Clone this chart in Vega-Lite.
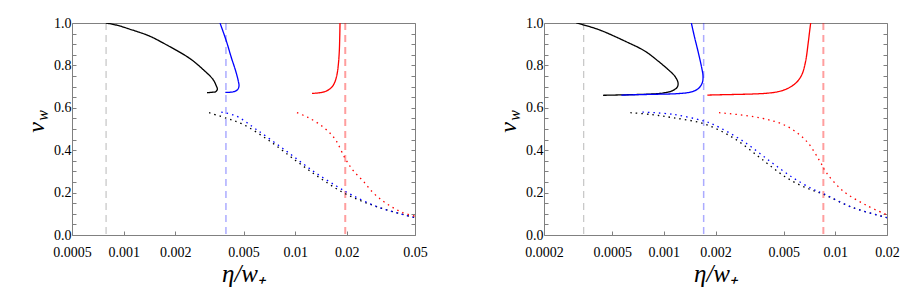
{
  "$schema": "https://vega.github.io/schema/vega-lite/v6.json",
  "padding": {"left": 23, "top": 15, "right": 5, "bottom": 5},
  "spacing": 67,
  "config": {
    "view": {"stroke": "#808080", "strokeWidth": 1},
    "axis": {
      "labelFont": "Liberation Serif", "labelFontSize": 14, "labelColor": "#000",
      "titleFont": "Liberation Serif", "titleFontStyle": "italic", "titleFontWeight": "normal",
      "titleColor": "#000", "tickColor": "#808080", "domain": false, "grid": false,
      "labelFlush": false, "labelOverlap": false
    }
  },
  "datasets": {
    "LR": [
      {"series": "A", "x": 0.00079},
      {"series": "B", "x": 0.00395},
      {"series": "C", "x": 0.0196}
    ],
    "LC": [
      {"series": "A", "style": "solid", "ord": 1, "x": 0.00079, "y": 1.0},
      {"series": "A", "style": "solid", "ord": 2, "x": 0.00092, "y": 0.989},
      {"series": "A", "style": "solid", "ord": 3, "x": 0.001085, "y": 0.971},
      {"series": "A", "style": "solid", "ord": 4, "x": 0.0014, "y": 0.940},
      {"series": "A", "style": "solid", "ord": 5, "x": 0.001697, "y": 0.906},
      {"series": "A", "style": "solid", "ord": 6, "x": 0.002428, "y": 0.833},
      {"series": "A", "style": "solid", "ord": 7, "x": 0.002903, "y": 0.781},
      {"series": "A", "style": "solid", "ord": 8, "x": 0.00332, "y": 0.734},
      {"series": "A", "style": "solid", "ord": 9, "x": 0.003472, "y": 0.703},
      {"series": "A", "style": "solid", "ord": 10, "x": 0.00352, "y": 0.687},
      {"series": "A", "style": "solid", "ord": 11, "x": 0.00344, "y": 0.676},
      {"series": "A", "style": "solid", "ord": 12, "x": 0.003246, "y": 0.673},
      {"series": "A", "style": "solid", "ord": 13, "x": 0.003063, "y": 0.671},
      {"series": "B", "style": "solid", "ord": 1, "x": 0.003648, "y": 1.0},
      {"series": "B", "style": "solid", "ord": 2, "x": 0.003971, "y": 0.915},
      {"series": "B", "style": "solid", "ord": 3, "x": 0.004246, "y": 0.837},
      {"series": "B", "style": "solid", "ord": 4, "x": 0.0045, "y": 0.774},
      {"series": "B", "style": "solid", "ord": 5, "x": 0.004664, "y": 0.726},
      {"series": "B", "style": "solid", "ord": 6, "x": 0.004707, "y": 0.703},
      {"series": "B", "style": "solid", "ord": 7, "x": 0.004623, "y": 0.686},
      {"series": "B", "style": "solid", "ord": 8, "x": 0.004382, "y": 0.676},
      {"series": "B", "style": "solid", "ord": 9, "x": 0.004061, "y": 0.673},
      {"series": "B", "style": "solid", "ord": 10, "x": 0.003917, "y": 0.673},
      {"series": "C", "style": "solid", "ord": 1, "x": 0.01254, "y": 0.668},
      {"series": "C", "style": "solid", "ord": 2, "x": 0.0139, "y": 0.671},
      {"series": "C", "style": "solid", "ord": 3, "x": 0.0152, "y": 0.679},
      {"series": "C", "style": "solid", "ord": 4, "x": 0.01626, "y": 0.695},
      {"series": "C", "style": "solid", "ord": 5, "x": 0.0170, "y": 0.719},
      {"series": "C", "style": "solid", "ord": 6, "x": 0.01755, "y": 0.758},
      {"series": "C", "style": "solid", "ord": 7, "x": 0.01787, "y": 0.805},
      {"series": "C", "style": "solid", "ord": 8, "x": 0.0181, "y": 0.868},
      {"series": "C", "style": "solid", "ord": 9, "x": 0.0182, "y": 0.931},
      {"series": "C", "style": "solid", "ord": 10, "x": 0.01827, "y": 1.0},
      {"series": "A", "style": "dotted", "ord": 1, "x": 0.00315, "y": 0.577},
      {"series": "A", "style": "dotted", "ord": 2, "x": 0.004, "y": 0.550},
      {"series": "A", "style": "dotted", "ord": 3, "x": 0.00497, "y": 0.522},
      {"series": "A", "style": "dotted", "ord": 4, "x": 0.00711, "y": 0.443},
      {"series": "A", "style": "dotted", "ord": 5, "x": 0.01016, "y": 0.349},
      {"series": "A", "style": "dotted", "ord": 6, "x": 0.0139, "y": 0.270},
      {"series": "A", "style": "dotted", "ord": 7, "x": 0.0199, "y": 0.192},
      {"series": "A", "style": "dotted", "ord": 8, "x": 0.0311, "y": 0.129},
      {"series": "A", "style": "dotted", "ord": 9, "x": 0.05, "y": 0.082},
      {"series": "B", "style": "dotted", "ord": 1, "x": 0.00371, "y": 0.580},
      {"series": "B", "style": "dotted", "ord": 2, "x": 0.00454, "y": 0.561},
      {"series": "B", "style": "dotted", "ord": 3, "x": 0.00594, "y": 0.498},
      {"series": "B", "style": "dotted", "ord": 4, "x": 0.00889, "y": 0.396},
      {"series": "B", "style": "dotted", "ord": 5, "x": 0.01271, "y": 0.302},
      {"series": "B", "style": "dotted", "ord": 6, "x": 0.01739, "y": 0.231},
      {"series": "B", "style": "dotted", "ord": 7, "x": 0.0215, "y": 0.188},
      {"series": "B", "style": "dotted", "ord": 8, "x": 0.0311, "y": 0.129},
      {"series": "B", "style": "dotted", "ord": 9, "x": 0.05, "y": 0.082},
      {"series": "C", "style": "dotted", "ord": 1, "x": 0.01025, "y": 0.577},
      {"series": "C", "style": "dotted", "ord": 2, "x": 0.0118, "y": 0.556},
      {"series": "C", "style": "dotted", "ord": 3, "x": 0.0139, "y": 0.522},
      {"series": "C", "style": "dotted", "ord": 4, "x": 0.0160, "y": 0.480},
      {"series": "C", "style": "dotted", "ord": 5, "x": 0.01739, "y": 0.443},
      {"series": "C", "style": "dotted", "ord": 6, "x": 0.01946, "y": 0.365},
      {"series": "C", "style": "dotted", "ord": 7, "x": 0.02175, "y": 0.305},
      {"series": "C", "style": "dotted", "ord": 8, "x": 0.02488, "y": 0.255},
      {"series": "C", "style": "dotted", "ord": 9, "x": 0.02845, "y": 0.200},
      {"series": "C", "style": "dotted", "ord": 10, "x": 0.03254, "y": 0.160},
      {"series": "C", "style": "dotted", "ord": 11, "x": 0.0372, "y": 0.129},
      {"series": "C", "style": "dotted", "ord": 12, "x": 0.04256, "y": 0.105},
      {"series": "C", "style": "dotted", "ord": 13, "x": 0.05, "y": 0.089}
    ],
    "RR": [
      {"series": "A", "x": 0.000341},
      {"series": "B", "x": 0.001706},
      {"series": "C", "x": 0.00851}
    ],
    "RC": [
      {"series": "A", "style": "solid", "ord": 1, "x": 0.000309, "y": 1.0},
      {"series": "A", "style": "solid", "ord": 2, "x": 0.000413, "y": 0.970},
      {"series": "A", "style": "solid", "ord": 3, "x": 0.000591, "y": 0.915},
      {"series": "A", "style": "solid", "ord": 4, "x": 0.000773, "y": 0.868},
      {"series": "A", "style": "solid", "ord": 5, "x": 0.000924, "y": 0.821},
      {"series": "A", "style": "solid", "ord": 6, "x": 0.001057, "y": 0.781},
      {"series": "A", "style": "solid", "ord": 7, "x": 0.001156, "y": 0.750},
      {"series": "A", "style": "solid", "ord": 8, "x": 0.001209, "y": 0.719},
      {"series": "A", "style": "solid", "ord": 9, "x": 0.001198, "y": 0.698},
      {"series": "A", "style": "solid", "ord": 10, "x": 0.00113, "y": 0.682},
      {"series": "A", "style": "solid", "ord": 11, "x": 0.001011, "y": 0.671},
      {"series": "A", "style": "solid", "ord": 12, "x": 0.000845, "y": 0.665},
      {"series": "A", "style": "solid", "ord": 13, "x": 0.000646, "y": 0.662},
      {"series": "A", "style": "solid", "ord": 14, "x": 0.000442, "y": 0.659},
      {"series": "B", "style": "solid", "ord": 1, "x": 0.001446, "y": 1.0},
      {"series": "B", "style": "solid", "ord": 2, "x": 0.001512, "y": 0.931},
      {"series": "B", "style": "solid", "ord": 3, "x": 0.00158, "y": 0.868},
      {"series": "B", "style": "solid", "ord": 4, "x": 0.001654, "y": 0.797},
      {"series": "B", "style": "solid", "ord": 5, "x": 0.001691, "y": 0.750},
      {"series": "B", "style": "solid", "ord": 6, "x": 0.001676, "y": 0.719},
      {"series": "B", "style": "solid", "ord": 7, "x": 0.001595, "y": 0.692},
      {"series": "B", "style": "solid", "ord": 8, "x": 0.001446, "y": 0.675},
      {"series": "B", "style": "solid", "ord": 9, "x": 0.001209, "y": 0.667},
      {"series": "B", "style": "solid", "ord": 10, "x": 0.000924, "y": 0.664},
      {"series": "B", "style": "solid", "ord": 11, "x": 0.000707, "y": 0.662},
      {"series": "B", "style": "solid", "ord": 12, "x": 0.000565, "y": 0.660},
      {"series": "C", "style": "solid", "ord": 1, "x": 0.001793, "y": 0.660},
      {"series": "C", "style": "solid", "ord": 2, "x": 0.002262, "y": 0.662},
      {"series": "C", "style": "solid", "ord": 3, "x": 0.002958, "y": 0.664},
      {"series": "C", "style": "solid", "ord": 4, "x": 0.00387, "y": 0.668},
      {"series": "C", "style": "solid", "ord": 5, "x": 0.004628, "y": 0.676},
      {"series": "C", "style": "solid", "ord": 6, "x": 0.005294, "y": 0.692},
      {"series": "C", "style": "solid", "ord": 7, "x": 0.00592, "y": 0.719},
      {"series": "C", "style": "solid", "ord": 8, "x": 0.00639, "y": 0.758},
      {"series": "C", "style": "solid", "ord": 9, "x": 0.006712, "y": 0.821},
      {"series": "C", "style": "solid", "ord": 10, "x": 0.006926, "y": 0.899},
      {"series": "C", "style": "solid", "ord": 11, "x": 0.00708, "y": 0.962},
      {"series": "C", "style": "solid", "ord": 12, "x": 0.007178, "y": 1.0},
      {"series": "A", "style": "dotted", "ord": 1, "x": 0.000638, "y": 0.577},
      {"series": "A", "style": "dotted", "ord": 2, "x": 0.00085, "y": 0.568},
      {"series": "A", "style": "dotted", "ord": 3, "x": 0.00113, "y": 0.553},
      {"series": "A", "style": "dotted", "ord": 4, "x": 0.001707, "y": 0.525},
      {"series": "A", "style": "dotted", "ord": 5, "x": 0.00253, "y": 0.459},
      {"series": "A", "style": "dotted", "ord": 6, "x": 0.0035, "y": 0.375},
      {"series": "A", "style": "dotted", "ord": 7, "x": 0.0043, "y": 0.318},
      {"series": "A", "style": "dotted", "ord": 8, "x": 0.0052, "y": 0.270},
      {"series": "A", "style": "dotted", "ord": 9, "x": 0.0065, "y": 0.228},
      {"series": "A", "style": "dotted", "ord": 10, "x": 0.00852, "y": 0.192},
      {"series": "A", "style": "dotted", "ord": 11, "x": 0.01266, "y": 0.129},
      {"series": "A", "style": "dotted", "ord": 12, "x": 0.02, "y": 0.082},
      {"series": "B", "style": "dotted", "ord": 1, "x": 0.00075, "y": 0.580},
      {"series": "B", "style": "dotted", "ord": 2, "x": 0.00113, "y": 0.569},
      {"series": "B", "style": "dotted", "ord": 3, "x": 0.001707, "y": 0.538},
      {"series": "B", "style": "dotted", "ord": 4, "x": 0.001935, "y": 0.522},
      {"series": "B", "style": "dotted", "ord": 5, "x": 0.002892, "y": 0.443},
      {"series": "B", "style": "dotted", "ord": 6, "x": 0.004141, "y": 0.349},
      {"series": "B", "style": "dotted", "ord": 7, "x": 0.005662, "y": 0.270},
      {"series": "B", "style": "dotted", "ord": 8, "x": 0.0074, "y": 0.216},
      {"series": "B", "style": "dotted", "ord": 9, "x": 0.00852, "y": 0.195},
      {"series": "B", "style": "dotted", "ord": 10, "x": 0.01266, "y": 0.129},
      {"series": "B", "style": "dotted", "ord": 11, "x": 0.02, "y": 0.082},
      {"series": "C", "style": "dotted", "ord": 1, "x": 0.002096, "y": 0.577},
      {"series": "C", "style": "dotted", "ord": 2, "x": 0.003621, "y": 0.553},
      {"series": "C", "style": "dotted", "ord": 3, "x": 0.005182, "y": 0.514},
      {"series": "C", "style": "dotted", "ord": 4, "x": 0.006776, "y": 0.443},
      {"series": "C", "style": "dotted", "ord": 5, "x": 0.008106, "y": 0.349},
      {"series": "C", "style": "dotted", "ord": 6, "x": 0.008864, "y": 0.294},
      {"series": "C", "style": "dotted", "ord": 7, "x": 0.01108, "y": 0.208},
      {"series": "C", "style": "dotted", "ord": 8, "x": 0.01517, "y": 0.140},
      {"series": "C", "style": "dotted", "ord": 9, "x": 0.02, "y": 0.095}
    ]
  },
  "hconcat": [
    {
      "width": 343, "height": 212,
      "layer": [
        {
          "data": {"name": "LR"},
          "mark": {"type": "rule", "strokeDash": [7, 5]},
          "encoding": {
            "x": {"field": "x", "type": "quantitative",
              "scale": {"type": "log", "domain": [0.0005, 0.05], "nice": false},
              "axis": {"orient": "bottom", "values": [0.0005, 0.001, 0.002, 0.005, 0.01, 0.02, 0.05], "format": "~g", "tickSize": -4, "labelPadding": 14, "title": "η/w₊", "titleFontSize": 25, "titleY": 46, "titleBaseline": "alphabetic"}},
            "color": {"field": "series", "type": "nominal", "scale": {"domain": ["A", "B", "C"], "range": ["#000000", "#0000ff", "#ff0000"]}, "legend": null},
            "opacity": {"field": "series", "type": "nominal", "scale": {"domain": ["A", "B", "C"], "range": [0.28, 0.38, 0.5]}, "legend": null},
            "strokeWidth": {"field": "series", "type": "nominal", "scale": {"domain": ["A", "B", "C"], "range": [1, 2, 1.5]}, "legend": null}
          }
        },
        {
          "data": {"name": "LC"},
          "mark": {"type": "line", "clip": true, "strokeWidth": 1.3, "interpolate": "catmull-rom"},
          "encoding": {
            "x": {"field": "x", "type": "quantitative", "axis": null},
            "y": {"field": "y", "type": "quantitative", "scale": {"domain": [0, 1], "nice": false},
              "axis": {"orient": "left", "values": [0, 0.05, 0.1, 0.15, 0.2, 0.25, 0.3, 0.35, 0.4, 0.45, 0.5, 0.55, 0.6, 0.65, 0.7, 0.75, 0.8, 0.85, 0.9, 0.95, 1.0],
                "labelExpr": "abs(datum.value*5 - round(datum.value*5)) < 0.001 ? format(datum.value, '.1f') : ''",
                "tickSize": -4, "labelPadding": 5, "title": "v", "titleFontSize": 24, "titleAngle": -90, "titleX": -29, "titleY": 104, "titleBaseline": "alphabetic", "titleAlign": "center"}},
            "color": {"field": "series", "type": "nominal", "legend": null},
            "strokeDash": {"field": "style", "type": "nominal", "scale": {"domain": ["solid", "dotted"], "range": [[1, 0], [1.5, 4]]}, "legend": null},
            "order": {"field": "ord", "type": "quantitative"}
          }
        },
        {
          "data": {"name": "LC"},
          "mark": {"type": "point", "opacity": 0},
          "encoding": {
            "x": {"field": "x", "type": "quantitative", "axis": null},
            "y": {"field": "y", "type": "quantitative",
              "axis": {"orient": "left", "labels": false, "ticks": false, "title": "w", "titleFontSize": 16, "titleAngle": -90, "titleX": -25, "titleY": 92, "titleBaseline": "alphabetic", "titleAlign": "center"}}
          }
        },
        {
          "data": {"name": "LC"},
          "mark": {"type": "point", "opacity": 0},
          "encoding": {
            "x": {"field": "x", "type": "quantitative", "axis": null},
            "y": {"field": "y", "type": "quantitative",
              "axis": {"orient": "right", "values": [0, 0.05, 0.1, 0.15, 0.2, 0.25, 0.3, 0.35, 0.4, 0.45, 0.5, 0.55, 0.6, 0.65, 0.7, 0.75, 0.8, 0.85, 0.9, 0.95, 1.0], "labels": false, "tickSize": -4, "title": null}}
          }
        }
      ],
      "resolve": {"axis": {"x": "independent", "y": "independent"}}
    },
    {
      "width": 343, "height": 212,
      "layer": [
        {
          "data": {"name": "RR"},
          "mark": {"type": "rule", "strokeDash": [7, 5]},
          "encoding": {
            "x": {"field": "x", "type": "quantitative",
              "scale": {"type": "log", "domain": [0.0002, 0.02], "nice": false},
              "axis": {"orient": "bottom", "values": [0.0002, 0.0005, 0.001, 0.002, 0.005, 0.01, 0.02], "format": "~g", "tickSize": -4, "labelPadding": 14, "title": "η/w₊", "titleFontSize": 25, "titleY": 46, "titleBaseline": "alphabetic"}},
            "color": {"field": "series", "type": "nominal", "scale": {"domain": ["A", "B", "C"], "range": ["#000000", "#0000ff", "#ff0000"]}, "legend": null},
            "opacity": {"field": "series", "type": "nominal", "scale": {"domain": ["A", "B", "C"], "range": [0.28, 0.38, 0.5]}, "legend": null},
            "strokeWidth": {"field": "series", "type": "nominal", "scale": {"domain": ["A", "B", "C"], "range": [1, 2, 1.5]}, "legend": null}
          }
        },
        {
          "data": {"name": "RC"},
          "mark": {"type": "line", "clip": true, "strokeWidth": 1.3, "interpolate": "catmull-rom"},
          "encoding": {
            "x": {"field": "x", "type": "quantitative", "axis": null},
            "y": {"field": "y", "type": "quantitative", "scale": {"domain": [0, 1], "nice": false},
              "axis": {"orient": "left", "values": [0, 0.05, 0.1, 0.15, 0.2, 0.25, 0.3, 0.35, 0.4, 0.45, 0.5, 0.55, 0.6, 0.65, 0.7, 0.75, 0.8, 0.85, 0.9, 0.95, 1.0],
                "labelExpr": "abs(datum.value*5 - round(datum.value*5)) < 0.001 ? format(datum.value, '.1f') : ''",
                "tickSize": -4, "labelPadding": 5, "title": "v", "titleFontSize": 24, "titleAngle": -90, "titleX": -29, "titleY": 104, "titleBaseline": "alphabetic", "titleAlign": "center"}},
            "color": {"field": "series", "type": "nominal", "legend": null},
            "strokeDash": {"field": "style", "type": "nominal", "scale": {"domain": ["solid", "dotted"], "range": [[1, 0], [1.5, 4]]}, "legend": null},
            "order": {"field": "ord", "type": "quantitative"}
          }
        },
        {
          "data": {"name": "RC"},
          "mark": {"type": "point", "opacity": 0},
          "encoding": {
            "x": {"field": "x", "type": "quantitative", "axis": null},
            "y": {"field": "y", "type": "quantitative",
              "axis": {"orient": "left", "labels": false, "ticks": false, "title": "w", "titleFontSize": 16, "titleAngle": -90, "titleX": -25, "titleY": 92, "titleBaseline": "alphabetic", "titleAlign": "center"}}
          }
        },
        {
          "data": {"name": "RC"},
          "mark": {"type": "point", "opacity": 0},
          "encoding": {
            "x": {"field": "x", "type": "quantitative", "axis": null},
            "y": {"field": "y", "type": "quantitative",
              "axis": {"orient": "right", "values": [0, 0.05, 0.1, 0.15, 0.2, 0.25, 0.3, 0.35, 0.4, 0.45, 0.5, 0.55, 0.6, 0.65, 0.7, 0.75, 0.8, 0.85, 0.9, 0.95, 1.0], "labels": false, "tickSize": -4, "title": null}}
          }
        }
      ],
      "resolve": {"axis": {"x": "independent", "y": "independent"}}
    }
  ]
}
